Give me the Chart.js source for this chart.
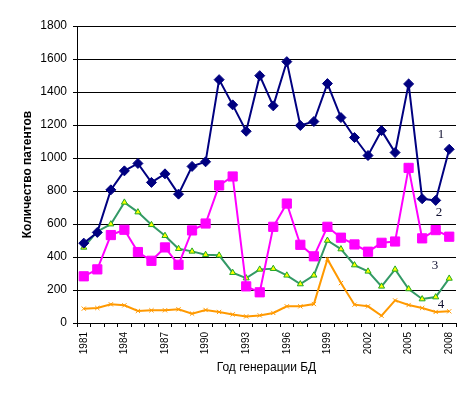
<!DOCTYPE html>
<html>
<head>
<meta charset="utf-8">
<script src="https://cdn.jsdelivr.net/npm/chart.js@4/dist/chart.umd.min.js"></script>
<style>
  html, body { margin: 0; padding: 0; background: #fff; }
  #wrap { width: 472px; height: 396px; position: relative; }
</style>
</head>
<body>
<div id="wrap"><canvas id="patents" width="472" height="396"></canvas></div>
<script>

const years = ["1981","1982","1983","1984","1985","1986","1987","1988","1989","1990","1991","1992","1993","1994",
  "1995","1996","1997","1998","1999","2000","2001","2002","2003","2004","2005","2006","2007","2008"];

const series1 = [484, 549, 807, 922, 967, 852, 904, 781, 949, 977, 1475, 1322, 1162, 1499,
  1316, 1584, 1197, 1221, 1451, 1245, 1124, 1015, 1166, 1033, 1449, 753, 743, 1053];
const series2 = [283, 325, 533, 565, 430, 377, 458, 353, 561, 603, 834, 888, 222, 186,
  583, 724, 474, 404, 583, 517, 476, 432, 486, 494, 940, 513, 563, 523];
const series3 = [458, 555, 599, 731, 672, 595, 529, 450, 434, 414, 410, 305, 272, 325,
  329, 289, 236, 289, 500, 448, 351, 313, 222, 325, 206, 145, 157, 270];
const series4 = [87, 91, 113, 107, 73, 77, 77, 83, 57, 79, 67, 52, 40, 46,
  61, 101, 101, 115, 387, 242, 111, 101, 44, 137, 109, 91, 67, 71];

const seriesLabels = ["1", "2", "3", "4"];
const yTicks = [0, 200, 400, 600, 800, 1000, 1200, 1400, 1600, 1800];

// numbers 1..4 next to the lines on the right
const lineNumbers = {
  id: "lineNumbers",
  afterDraw(chart){
    const ctx = chart.ctx;
    const spots = [[441, 135], [439, 213], [435, 266], [441, 305]];
    ctx.save();
    ctx.font = "13px 'Liberation Serif'";
    ctx.fillStyle = "#101030";
    ctx.textAlign = "center";
    ctx.textBaseline = "middle";
    seriesLabels.forEach((t, i) => ctx.fillText(t, spots[i][0], spots[i][1]));
    ctx.restore();
  }
};

new Chart("patents", {
  type: "line",
  data: {
    labels: years,
    datasets: [
      {
        data: series1,
        borderColor: "#000080",
        backgroundColor: "#000080",
        borderWidth: 2,
        pointStyle: "rectRot",
        pointRadius: 5,
        pointBorderWidth: 1
      },
      {
        data: series2,
        borderColor: "#FF00FF",
        backgroundColor: "#FF00FF",
        borderWidth: 2,
        pointStyle: "rect",
        pointRadius: 6.5,
        pointBorderWidth: 1
      },
      {
        data: series3,
        borderColor: "#339966",
        backgroundColor: "#FFFF00",
        pointBorderColor: "#22AA22",
        borderWidth: 2,
        pointStyle: "triangle",
        pointRadius: 3.5,
        pointBorderWidth: 1
      },
      {
        data: series4,
        borderColor: "#FF9900",
        backgroundColor: "#FF9900",
        borderWidth: 2,
        pointStyle: "crossRot",
        pointRadius: 3,
        pointBorderWidth: 1
      }
    ]
  },
  options: {
    responsive: false,
    animation: false,
    layout: { padding: { top: 26, right: 16, left: 0, bottom: 0 } },
    elements: { line: { tension: 0 } },
    plugins: {
      legend: { display: false },
      tooltip: { enabled: false }
    },
    scales: {
      x: {
        offset: true,
        afterFit: (s) => { s.height = 73; },
        grid: {
          offset: true,
          drawOnChartArea: false,
          drawTicks: true,
          tickLength: 4,
          color: "#000"
        },
        border: { color: "#000", width: 1 },
        ticks: {
          autoSkip: false,
          minRotation: 90,
          maxRotation: 90,
          padding: 5,
          color: "#000",
          font: { family: "'Liberation Sans'", size: 10 },
          callback: (v, i) => (i % 3 === 0 ? years[i] : "")
        },
        title: {
          display: true,
          text: "Год генерации БД",
          color: "#000",
          font: { family: "'Liberation Sans'", size: 12 },
          padding: { top: 0, bottom: 21 }
        }
      },
      y: {
        min: 0,
        max: 1800,
        afterFit: (s) => { s.width = 77; },
        afterBuildTicks: (s) => { s.ticks = yTicks.map(v => ({ value: v })); },
        grid: {
          color: "#000",
          lineWidth: 1,
          drawTicks: true,
          tickLength: 4
        },
        border: { color: "#000", width: 1 },
        ticks: {
          padding: 6,
          color: "#000",
          font: { family: "'Liberation Sans'", size: 12 },
          callback: (v) => String(v)
        },
        title: {
          display: true,
          text: "Количество патентов",
          color: "#000",
          font: { family: "'Liberation Sans'", size: 12, weight: "bold" },
          padding: { top: 20, bottom: 0 }
        }
      }
    }
  },
  plugins: [lineNumbers]
});

</script>
</body>
</html>
